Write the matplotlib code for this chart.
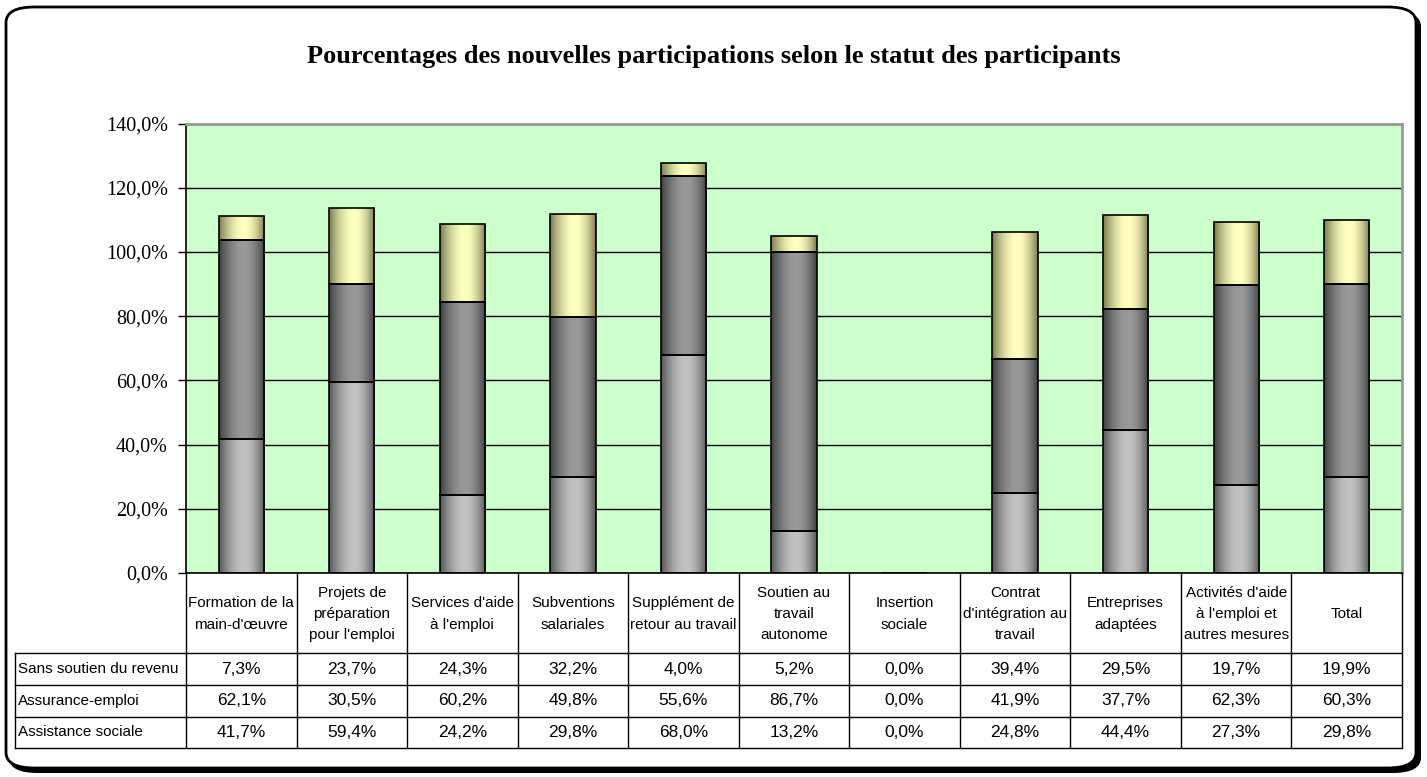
import numpy as np
import matplotlib
matplotlib.use("Agg")
import matplotlib.pyplot as plt
from matplotlib.patches import FancyBboxPatch

categories = [
    "Formation de la\nmain-d'œuvre",
    "Projets de\npréparation\npour l'emploi",
    "Services d'aide\nà l'emploi",
    "Subventions\nsalariales",
    "Supplément de\nretour au travail",
    "Soutien au\ntravail\nautonome",
    "Insertion\nsociale",
    "Contrat\nd'intégration au\ntravail",
    "Entreprises\nadaptées",
    "Activités d'aide\nà l'emploi et\nautres mesures",
    "Total",
]
sans_soutien = [7.3, 23.7, 24.3, 32.2, 4.0, 5.2, 0.0, 39.4, 29.5, 19.7, 19.9]
assurance_emploi = [62.1, 30.5, 60.2, 49.8, 55.6, 86.7, 0.0, 41.9, 37.7, 62.3, 60.3]
assistance_sociale = [41.7, 59.4, 24.2, 29.8, 68.0, 13.2, 0.0, 24.8, 44.4, 27.3, 29.8]
row_labels = ["Sans soutien du revenu", "Assurance-emploi", "Assistance sociale"]
title = "Pourcentages des nouvelles participations selon le statut des participants"

sans = "Liberation Sans"
serif = "Liberation Serif"

W, H = 1427, 777
fig = plt.figure(figsize=(W / 100, H / 100), dpi=100)


def px_axes(x0, y0, x1, y1):
    # pixel box (top-left origin) -> figure fraction
    return [x0 / W, 1 - y1 / H, (x1 - x0) / W, (y1 - y0) / H]


# outer rounded frame with shadow
shadow = FancyBboxPatch((9 / W, 4 / H), 1412 / W, 762 / H,
                        boxstyle="round,pad=0,rounding_size=0.02",
                        transform=fig.transFigure, facecolor="black",
                        edgecolor="black", lw=0, zorder=-2)
frame = FancyBboxPatch((6 / W, 9 / H), 1410 / W, 761 / H,
                       boxstyle="round,pad=0,rounding_size=0.02",
                       transform=fig.transFigure, facecolor="white",
                       edgecolor="black", lw=2, zorder=-1)
fig.patches.extend([shadow, frame])

fig.text(0.5, 1 - 56 / H, title, ha="center", va="center",
         family=serif, fontweight="bold", fontsize=19)

x_left, x_right, y_top, y_bot = 186, 1402, 123.5, 573
ax = fig.add_axes(px_axes(x_left, y_top, x_right, y_bot))
ax.set_facecolor("#CCFFCC")
ax.set_yticks(np.arange(0, 141, 20))
ax.set_yticklabels([f"{v:.1f}%".replace(".", ",") for v in range(0, 141, 20)],
                   family=serif, fontsize=14.5)
ax.tick_params(axis="y", direction="out", length=6, width=1, pad=7, color="black")
ax.set_xticks([])
ax.grid(axis="y", color="black", linewidth=1)
ax.set_axisbelow(True)
for side in ["top", "right"]:
    ax.spines[side].set_color("#999999")
    ax.spines[side].set_linewidth(2)
ax.spines["left"].set_linewidth(1.2)
ax.spines["bottom"].set_linewidth(1.2)

x = np.arange(len(categories))
bw = 0.41
# (values, highlight colour, edge shade colour)
series = [
    (assistance_sociale, (0.76, 0.76, 0.76), (0.33, 0.33, 0.33)),
    (assurance_emploi, (0.60, 0.60, 0.60), (0.24, 0.24, 0.24)),
    (sans_soutien, (1.0, 1.0, 0.75), (0.47, 0.47, 0.32)),
]
t = np.linspace(0, 1, 200)
peak = 0.55
prof = np.where(t < peak, np.sin(np.pi / 2 * t / peak),
                np.sin(np.pi / 2 * (1 - t) / (1 - peak))) ** 0.9
bottom = np.zeros(len(categories))
for vals, light, dark in series:
    vals = np.array(vals)
    bars = ax.bar(x, vals, bw, bottom=bottom, facecolor="none",
                  edgecolor="black", linewidth=1.2, zorder=3)
    grad = np.array(dark)[None, :] + (np.array(light) - np.array(dark))[None, :] * prof[:, None]
    img = grad[None, :, :]
    for b in bars:
        if b.get_height() <= 0:
            continue
        im = ax.imshow(img, extent=[b.get_x(), b.get_x() + b.get_width(),
                                    b.get_y(), b.get_y() + b.get_height()],
                       aspect="auto", zorder=2.5, interpolation="bilinear")
        im.set_clip_path(b)
    bottom = bottom + vals
ax.set_xlim(-0.5, len(categories) - 0.5)
ax.set_ylim(0, 140)

# data table below the plot
tab_bot = 748
tab = fig.add_axes(px_axes(x_left, y_bot, x_right, tab_bot))
tab.set_xlim(-0.5, len(categories) - 0.5)
tab.set_ylim(tab_bot - y_bot, 0)
tab.axis("off")
col_w = (x_right - x_left) / len(categories)
lab_left = -0.5 - (x_left - 15) / col_w
hdr = 653 - y_bot
row_edges = [hdr, 685 - y_bot, 716.5 - y_bot, tab_bot - y_bot]
lc = dict(color="black", linewidth=1, clip_on=False)
for i in range(len(categories) + 1):
    tab.plot([i - 0.5, i - 0.5], [0, row_edges[-1]], **lc)
tab.plot([lab_left, lab_left], [hdr, row_edges[-1]], **lc)
for y in row_edges:
    tab.plot([lab_left, len(categories) - 0.5], [y, y], **lc)
for i, c in enumerate(categories):
    tab.text(i, hdr / 2 + 1, c, ha="center", va="center", family=sans,
             fontsize=11, linespacing=1.65, clip_on=False)
table_rows = [sans_soutien, assurance_emploi, assistance_sociale]
for r, (lab, vals) in enumerate(zip(row_labels, table_rows)):
    yc = (row_edges[r] + row_edges[r + 1]) / 2
    tab.text(lab_left + 0.025, yc, lab, ha="left", va="center", family=sans,
             fontsize=11, clip_on=False)
    for i, v in enumerate(vals):
        tab.text(i, yc, f"{v:.1f}%".replace(".", ","), ha="center", va="center",
                 family=sans, fontsize=12.5, clip_on=False)

fig.savefig("out.png", dpi=100)
